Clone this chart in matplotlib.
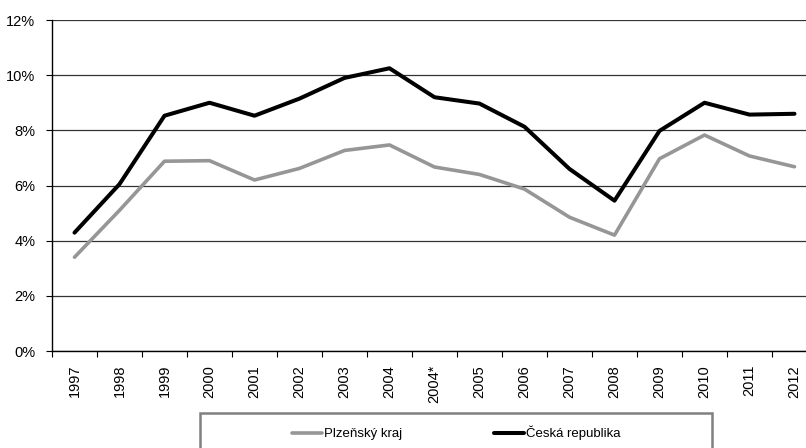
import matplotlib.pyplot as plt
from matplotlib.patches import Rectangle
from matplotlib.ticker import FuncFormatter

plt.rcParams['font.family'] = ['Liberation Sans', 'DejaVu Sans']

years = ['1997', '1998', '1999', '2000', '2001', '2002', '2003', '2004', '2004*',
         '2005', '2006', '2007', '2008', '2009', '2010', '2011', '2012']
plzensky = [3.4, 5.1, 6.88, 6.9, 6.2, 6.62, 7.27, 7.47, 6.67,
            6.4, 5.87, 4.85, 4.2, 6.97, 7.83, 7.07, 6.68]
cr = [4.29, 6.05, 8.53, 9.0, 8.53, 9.15, 9.9, 10.25, 9.2,
      8.97, 8.13, 6.6, 5.45, 7.98, 9.0, 8.57, 8.6]

fig = plt.figure(figsize=(8.06, 4.48), dpi=100)
# plot area runs past the right edge of the image, as in the original
ax = fig.add_axes([52 / 806, 1 - 351 / 448, 765 / 806, 331 / 448])

x = range(len(years))
ax.plot(x, plzensky, color='#969696', lw=2.6, solid_capstyle='round', label='Plzeňský kraj', zorder=3)
ax.plot(x, cr, color='black', lw=2.9, solid_capstyle='round', label='Česká republika', zorder=4)

ax.set_xlim(-0.5, len(years) - 0.5)
ax.set_ylim(0, 12)
ax.set_yticks(range(0, 13, 2))
ax.yaxis.set_major_formatter(FuncFormatter(lambda v, p: f'{v:.0f}%'))
ax.set_xticks([i - 0.5 for i in x], minor=False)
ax.set_xticklabels([])
ax.set_xticks(list(x), minor=True)
ax.set_xticklabels(years, minor=True, rotation=90, fontsize=10.5)
ax.tick_params(axis='x', which='minor', length=0, pad=10)
ax.tick_params(axis='x', which='major', length=4, width=0.8, direction='out')
ax.tick_params(axis='y', length=4, width=0.8, labelsize=10.5, pad=8)

ax.grid(axis='y', color='#333333', lw=0.9)
ax.set_axisbelow(True)
for s in ['top', 'right']:
    ax.spines[s].set_visible(False)
ax.spines['left'].set_linewidth(1)
ax.spines['bottom'].set_linewidth(1)

fig.patches.append(Rectangle((200 / 806, -0.05), 512 / 806, 0.05 + 1 - 413 / 448,
                             transform=fig.transFigure, fill=False,
                             edgecolor='#808080', lw=1.8))
fig.legend(loc='center', bbox_to_anchor=(456 / 806, 1 - 433 / 448), ncol=2,
           frameon=False, fontsize=9.5, handlelength=2.3, handletextpad=0.1,
           columnspacing=7)

fig.savefig('out.png', dpi=100)
